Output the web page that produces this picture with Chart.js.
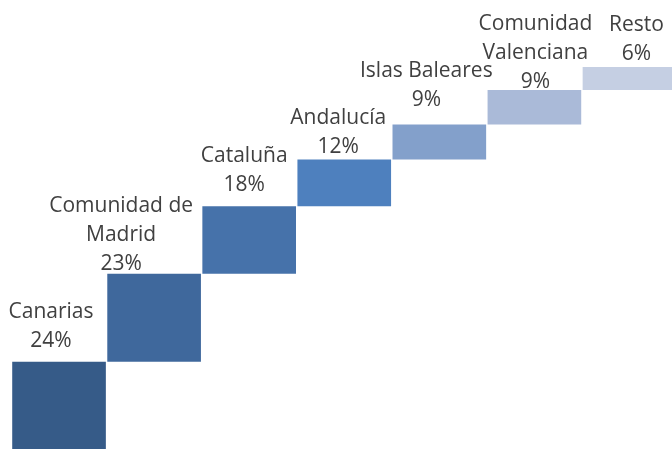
<!DOCTYPE html>
<html>
<head>
<meta charset="utf-8">
<script src="https://cdn.jsdelivr.net/npm/chart.js@4"></script>
<style>
  html, body { margin: 0; padding: 0; background: #fff; overflow: hidden; }
  #wrap { position: relative; width: 677px; height: 452px; }
</style>
</head>
<body>
<div id="wrap"><canvas id="waterfall"></canvas></div>
<script>
// Datos: peso de cada comunidad (%)
const regiones = ['Canarias', 'Comunidad de Madrid', 'Cataluña', 'Andalucía', 'Islas Baleares', 'Comunidad Valenciana', 'Resto'];
const etiquetas = [['Canarias'], ['Comunidad de', 'Madrid'], ['Cataluña'], ['Andalucía'], ['Islas Baleares'], ['Comunidad', 'Valenciana'], ['Resto']];
const porcentajes = [23.6, 23.0, 17.6, 12.2, 9.2, 9.0, 6.0];

const colores = ['#365b88', '#3f689c', '#4672aa', '#4e80be', '#83a0cb', '#aabad8', '#c5cfe3'];
// desplazamiento de las etiquetas (px) respecto al centro / parte superior de la barra
const etiquetaDx = [-8, -33, -5, -6, -13, 1, 7];
const etiquetaGap = [15, 4, 15, 7, 18, 2, 7];

// barras flotantes acumuladas (cascada)
let acumulado = 0;
const tramos = porcentajes.map(v => {
    const t = [acumulado, acumulado + v];
    acumulado += v;
    return t;
});

const etiquetasPlugin = {
    id: 'etiquetas',
    afterDatasetsDraw(chart) {
        const ctx = chart.ctx;
        const meta = chart.getDatasetMeta(0);
        ctx.save();
        ctx.font = '21px "Open Sans", sans-serif';
        ctx.fillStyle = '#404040';
        ctx.textAlign = 'center';
        ctx.textBaseline = 'alphabetic';
        const alto = 29; // interlineado
        meta.data.forEach((bar, i) => {
            const lineas = etiquetas[i].concat([Math.round(porcentajes[i]) + '%']);
            const x = bar.x + etiquetaDx[i];
            const yUltima = bar.y - etiquetaGap[i];
            lineas.forEach((txt, j) => {
                ctx.fillText(txt, x, yUltima - (lineas.length - 1 - j) * alto);
            });
        });
        ctx.restore();
    }
};

const config = {
    type: 'bar',
    data: {
        labels: regiones,
        datasets: [{
            data: tramos,
            backgroundColor: colores,
            borderWidth: 0,
            categoryPercentage: 1,
            barPercentage: 0.985
        }]
    },
    options: {
        responsive: true,
        maintainAspectRatio: false,
        animation: false,
        layout: { padding: { left: 11.5, right: 0, top: 67, bottom: 0 } },
        scales: {
            x: { display: false },
            y: { display: false, min: 0, max: acumulado }
        },
        plugins: {
            legend: { display: false },
            tooltip: { enabled: false }
        }
    },
    plugins: [etiquetasPlugin]
};

const ctx = document.getElementById('waterfall').getContext('2d');
const grafico = new Chart(ctx, config);
</script>
</body>
</html>
